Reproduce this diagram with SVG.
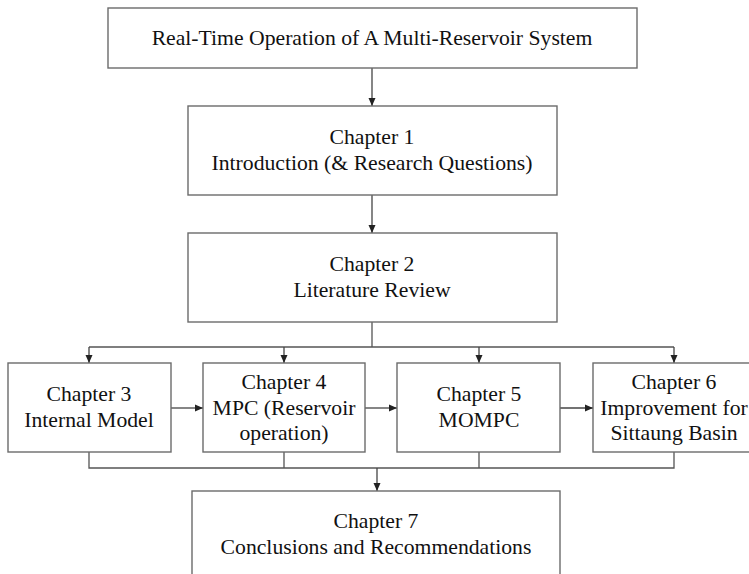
<svg xmlns="http://www.w3.org/2000/svg" width="749" height="574" viewBox="0 0 749 574">
<defs>
<marker id="ah" viewBox="0 0 8 8" refX="8" refY="4" markerWidth="8" markerHeight="8" markerUnits="userSpaceOnUse" orient="auto">
<path d="M0,0.5 L8,4 L0,7.5 Z" fill="#222"/>
</marker>
<style>
.box{fill:#fff;stroke:#6b6b6b;stroke-width:1.4}
.t{font-family:"Liberation Serif","Times New Roman",serif;font-size:21.7px;fill:#111;text-anchor:middle}
.c{fill:none;stroke:#555;stroke-width:1.3}
.a{fill:none;stroke:#444;stroke-width:1.3;marker-end:url(#ah)}
</style>
</defs>
<rect width="749" height="574" fill="#fff"/>
<g id="connectors">
<path class="a" d="M372,68 V106"/>
<path class="a" d="M372,195 V233"/>
<path class="c" d="M372,322 V347 M89,347 H674"/>
<path class="a" d="M89,347 V363"/>
<path class="a" d="M284,347 V363"/>
<path class="a" d="M479,347 V363"/>
<path class="a" d="M674,347 V363"/>
<path class="a" d="M171,408 H203"/>
<path class="a" d="M365,408 H397"/>
<path class="a" d="M560,408 H593"/>
<path class="c" d="M89,452 V468 H674 V452 M284,452 V468 M479,452 V468"/>
<path class="a" d="M377,468 V491"/>
</g>
<g id="top">
<rect class="box" x="108" y="8" width="529" height="60"/>
<text class="t" x="372" y="45">Real-Time Operation of A Multi-Reservoir System</text>
</g>
<g id="ch1">
<rect class="box" x="188" y="106" width="369" height="89"/>
<text class="t" x="372" y="144">Chapter 1</text>
<text class="t" x="372" y="170">Introduction (&amp; Research Questions)</text>
</g>
<g id="ch2">
<rect class="box" x="188" y="233" width="369" height="89"/>
<text class="t" x="372" y="271">Chapter 2</text>
<text class="t" x="372" y="297">Literature Review</text>
</g>
<g id="ch3">
<rect class="box" x="8" y="363" width="163" height="89"/>
<text class="t" x="89" y="401">Chapter 3</text>
<text class="t" x="89" y="427">Internal Model</text>
</g>
<g id="ch4">
<rect class="box" x="203" y="363" width="162" height="89"/>
<text class="t" x="284" y="389">Chapter 4</text>
<text class="t" x="284" y="415">MPC (Reservoir</text>
<text class="t" x="284" y="440">operation)</text>
</g>
<g id="ch5">
<rect class="box" x="397" y="363" width="163" height="89"/>
<text class="t" x="479" y="401">Chapter 5</text>
<text class="t" x="479" y="427">MOMPC</text>
</g>
<g id="ch6">
<rect class="box" x="593" y="363" width="162" height="89"/>
<text class="t" x="674" y="389">Chapter 6</text>
<text class="t" x="674" y="415">Improvement for</text>
<text class="t" x="674" y="440">Sittaung Basin</text>
</g>
<g id="ch7">
<rect class="box" x="192" y="491" width="368" height="100"/>
<text class="t" x="376" y="528">Chapter 7</text>
<text class="t" x="376" y="554">Conclusions and Recommendations</text>
</g>
</svg>
